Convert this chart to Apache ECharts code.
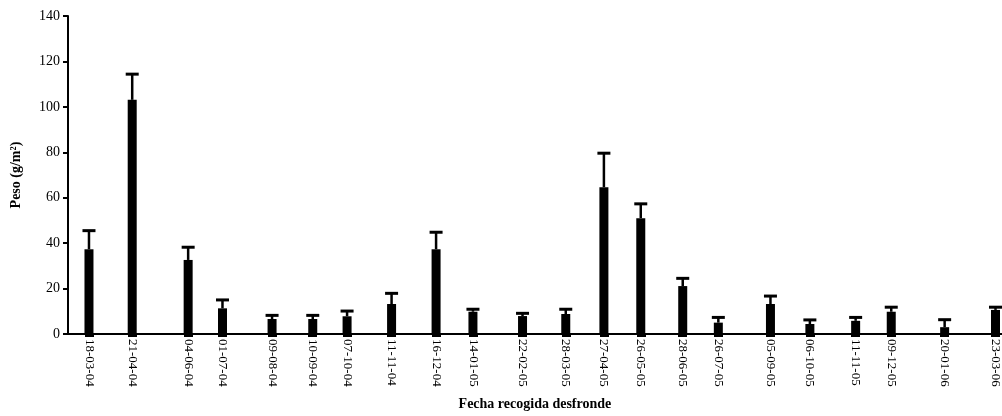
<!DOCTYPE html>
<html>
<head>
<meta charset="utf-8">
<script src="https://cdn.jsdelivr.net/npm/echarts@6/dist/echarts.min.js"></script>
<style>html,body{margin:0;padding:0;background:#fff}#c{width:1002px;height:416px}</style>
</head>
<body>
<div id="c"></div>
<script>
// Collection dates (labels) and their plotted position on the axis (days after 18-03-04, as drawn)
var dateLabels = ['18-03-04','21-04-04','04-06-04','01-07-04','09-08-04','10-09-04','07-10-04','11-11-04','16-12-04','14-01-05','22-02-05','28-03-05','27-04-05','26-05-05','28-06-05','26-07-05','05-09-05','06-10-05','11-11-05','09-12-05','20-01-06','23-03-06'];
var dayPos = [0,34,78,105,144,176,203,238,273,302,341,375,405,434,467,495,536,567,603,631,673,713];
// Mean weight (g/m2)
var pesoMedio = [37.3,103.1,32.6,11.3,6.6,6.6,7.8,13.2,37.3,9.8,7.9,8.8,64.6,51.0,21.1,5.0,13.2,4.4,5.8,9.8,3.0,10.6];
// Upper end of error bar (g/m2)
var pesoSup = [45.5,114.4,38.2,15.0,8.2,8.2,10.1,17.9,44.8,10.9,9.1,10.9,79.6,57.3,24.5,7.3,16.7,6.2,7.3,11.8,6.3,11.8];
var yTicks = [0,20,40,60,80,100,120,140];

var serif = '"Liberation Serif","Times New Roman",serif';
var labelMap = {};
dayPos.forEach(function(d,i){ labelMap[d] = dateLabels[i]; });

var barData = dayPos.map(function(d,i){ return [d, pesoMedio[i]]; });
var errData = dayPos.map(function(d,i){ return [d, pesoMedio[i], pesoSup[i]]; });

var chart = echarts.init(document.getElementById('c'), null, {renderer:'canvas'});
chart.setOption({
  animation:false,
  backgroundColor:'#ffffff',
  grid:{left:68, right:0, top:16, bottom:82, containLabel:false},
  xAxis:{
    type:'value', min:-16.5, max:718,
    name:'Fecha recogida desfronde', nameLocation:'middle', nameGap:63,
    nameTextStyle:{fontFamily:serif, fontWeight:'bold', fontSize:14, color:'#000'},
    splitLine:{show:false},
    axisLine:{show:true, onZero:false, lineStyle:{color:'#000', width:2}},
    axisTick:{show:true, customValues:dayPos, length:3, inside:false, lineStyle:{color:'#000', width:9}},
    axisLabel:{show:true, customValues:dayPos, rotate:-90, margin:5, fontFamily:serif, fontSize:13, color:'#000',
      formatter:function(v){ return labelMap[v] || ''; }}
  },
  yAxis:{
    type:'value', min:0, max:140, interval:20,
    name:'Peso (g/m²)', nameLocation:'middle', nameGap:45,
    nameTextStyle:{fontFamily:serif, fontWeight:'bold', fontSize:14, color:'#000'},
    splitLine:{show:false},
    axisLine:{show:true, onZero:false, lineStyle:{color:'#000', width:2}},
    axisTick:{show:true, length:5, lineStyle:{color:'#000', width:2}},
    axisLabel:{fontFamily:serif, fontSize:14, color:'#000', margin:8,
      formatter:function(v){ return yTicks.indexOf(v) >= 0 ? String(v) : ''; }}
  },
  series:[
    {type:'bar', data:barData, barWidth:9, itemStyle:{color:'#000'}, silent:true, clip:false},
    {type:'custom', data:errData, silent:true, clip:false, z:3,
      renderItem:function(params, api){
        var x = api.value(0);
        var p0 = api.coord([x, api.value(1)]);
        var p1 = api.coord([x, api.value(2)]);
        var hw = 6.5;
        return {type:'group', children:[
          {type:'line', shape:{x1:p0[0], y1:p0[1], x2:p1[0], y2:p1[1]}, style:{stroke:'#000', lineWidth:2.5}},
          {type:'line', shape:{x1:p1[0]-hw, y1:p1[1], x2:p1[0]+hw, y2:p1[1]}, style:{stroke:'#000', lineWidth:3}}
        ]};
      }}
  ]
});
</script>
</body>
</html>
